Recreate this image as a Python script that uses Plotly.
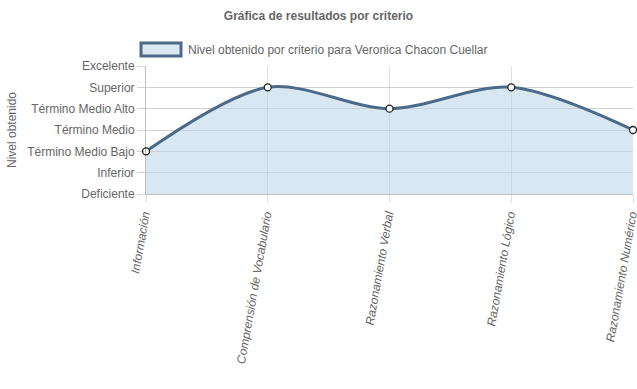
import plotly.graph_objects as go

categories = ["Información", "Comprensión de Vocabulario", "Razonamiento Verbal",
              "Razonamiento Lógico", "Razonamiento Numérico"]
levels = ["Deficiente", "Inferior", "Término Medio Bajo", "Término Medio",
          "Término Medio Alto", "Superior", "Excelente"]
values = [2, 5, 4, 5, 3]
series_name = "Nivel obtenido por criterio para Veronica Chacon Cuellar"
title_text = "Gráfica de resultados por criterio"
y_title = "Nivel obtenido"

LINE = "#4b6a89"
FILL = "rgba(185,212,234,0.55)"
GRID = "rgba(0,0,0,0.12)"
FONT = "Liberation Sans, Arial, sans-serif"

PL, PR, PT, PB = 146, 633, 66, 194
PW, PH = PR - PL, PB - PT

fig = go.Figure()
fig.add_trace(go.Scatter(
    x=list(range(len(categories))), y=values,
    mode="lines+markers",
    line=dict(color=LINE, width=3, shape="spline", smoothing=0.9),
    fill="tozeroy", fillcolor=FILL,
    marker=dict(size=7, color="white", line=dict(color="#222", width=1.3)),
    cliponaxis=False, showlegend=False, name=series_name,
))

fig.update_layout(
    width=637, height=389,
    margin=dict(l=PL, r=637 - PR, t=PT, b=389 - PB, autoexpand=False),
    paper_bgcolor="white", plot_bgcolor="white",
    font=dict(family=FONT, size=12, color="#666"),
    title=dict(text="<b>" + title_text + "</b>", x=0.5, xanchor="center",
               y=1 - 16 / 389, yanchor="middle",
               font=dict(size=12, color="#666", family=FONT)),
    showlegend=False,
)

fig.update_xaxes(
    range=[0, len(categories) - 1], automargin=False,
    tickmode="array", tickvals=list(range(len(categories))), ticktext=categories,
    tickangle=-80, tickfont=dict(size=12, color="#666", style="italic"),
    ticklabeloverflow="allow", ticklabelshift=-2,
    showgrid=True, gridcolor=GRID, gridwidth=1,
    ticks="outside", ticklen=8, tickcolor=GRID,
    showline=True, linecolor="rgba(0,0,0,0.25)", linewidth=1,
    zeroline=False, fixedrange=True,
)
fig.update_yaxes(
    range=[0, len(levels) - 1], automargin=False,
    tickmode="array", tickvals=list(range(len(levels))), ticktext=levels,
    tickfont=dict(size=12, color="#666"),
    showgrid=True, gridcolor="rgba(0,0,0,0.18)", gridwidth=1,
    ticks="outside", ticklen=8, tickcolor="rgba(0,0,0,0.18)",
    showline=True, linecolor="rgba(0,0,0,0.25)", linewidth=1,
    zeroline=False, fixedrange=True,
)

# y-axis title
fig.add_annotation(xref="paper", yref="paper",
                   x=(12 - PL) / PW, y=(PB - 130) / PH,
                   xanchor="center", yanchor="middle", showarrow=False,
                   textangle=-90, text=y_title, font=dict(size=12, color="#666"))

# legend box (Chart.js style)
fig.add_shape(type="rect", xref="paper", yref="paper",
              x0=(141 - PL) / PW, x1=(181 - PL) / PW,
              y0=(PB - 56) / PH, y1=(PB - 43) / PH,
              fillcolor="#dbe8f3", line=dict(color=LINE, width=3))
fig.add_annotation(xref="paper", yref="paper",
                   x=(186 - PL) / PW, y=(PB - 49.5) / PH,
                   xanchor="left", yanchor="middle", showarrow=False,
                   text=series_name, font=dict(size=12, color="#666"))

fig.write_html("out.html", config={"displayModeBar": False},
               post_script="document.body.style.margin='0';document.body.style.overflow='hidden';")
